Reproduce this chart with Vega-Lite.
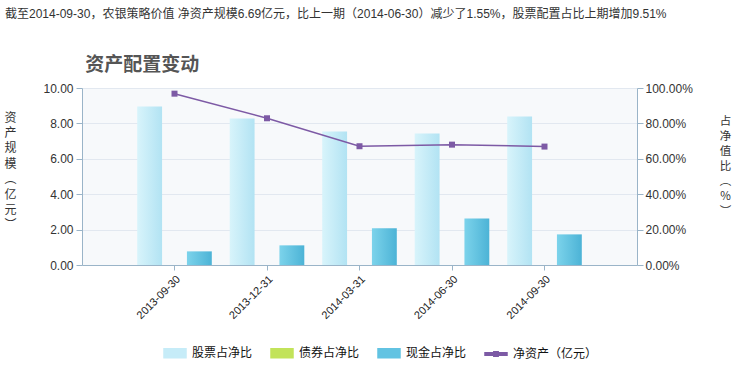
{
  "$schema": "https://vega.github.io/schema/vega-lite/v6.json",
  "width": 555,
  "height": 177,
  "autosize": {"type": "none"},
  "padding": {"left": 82, "top": 88, "right": 103, "bottom": 104},
  "background": "white",
  "config": {
    "view": {"fill": "#f7f9fb", "stroke": null},
    "axis": {
      "labelFont": "Liberation Sans",
      "labelColor": "#333333",
      "domainColor": "#9ab4c8",
      "tickColor": "#9ab4c8",
      "titleFont": "Noto Sans CJK SC",
      "titleFontWeight": "normal",
      "titleColor": "#333333"
    }
  },
  "title": {
    "text": "截至2014-09-30，农银策略价值 净资产规模6.69亿元，比上一期（2014-06-30）减少了1.55%，股票配置占比上期增加9.51%",
    "subtitle": "​　　　　 资产配置变动",
    "anchor": "start",
    "frame": "group",
    "dx": -77,
    "offset": 6,
    "font": "Liberation Sans, Noto Sans CJK SC",
    "fontSize": 12,
    "fontWeight": "normal",
    "color": "#333333",
    "subtitleFont": "Noto Sans CJK SC",
    "subtitleFontSize": 19,
    "subtitleFontWeight": "bold",
    "subtitleColor": "#555555",
    "subtitlePadding": 35
  },
  "datasets": {
    "alloc": [
      {"date": "2013-09-30", "type": "股票占净比", "value": 0.895},
      {"date": "2013-09-30", "type": "现金占净比", "value": 0.077},
      {"date": "2013-12-31", "type": "股票占净比", "value": 0.827},
      {"date": "2013-12-31", "type": "现金占净比", "value": 0.111},
      {"date": "2014-03-31", "type": "股票占净比", "value": 0.754},
      {"date": "2014-03-31", "type": "现金占净比", "value": 0.207},
      {"date": "2014-06-30", "type": "股票占净比", "value": 0.7435},
      {"date": "2014-06-30", "type": "现金占净比", "value": 0.263},
      {"date": "2014-09-30", "type": "股票占净比", "value": 0.8386},
      {"date": "2014-09-30", "type": "现金占净比", "value": 0.173}
    ],
    "nav": [
      {"date": "2013-09-30", "series": "净资产（亿元）", "nav": 9.68},
      {"date": "2013-12-31", "series": "净资产（亿元）", "nav": 8.29},
      {"date": "2014-03-31", "series": "净资产（亿元）", "nav": 6.71},
      {"date": "2014-06-30", "series": "净资产（亿元）", "nav": 6.80},
      {"date": "2014-09-30", "series": "净资产（亿元）", "nav": 6.69}
    ]
  },
  "layer": [
    {
      "data": {"name": "alloc"},
      "mark": {"type": "bar", "stroke": null},
      "encoding": {
        "x": {
          "field": "date",
          "type": "ordinal",
          "scale": {"paddingInner": 0, "paddingOuter": 0.5},
          "axis": {
            "title": null,
            "labelAngle": -45,
            "labelAlign": "right",
            "labelBaseline": "top",
            "labelFontSize": 11,
            "labelColor": "#222222",
            "labelPadding": 3,
            "tickSize": 5
          }
        },
        "xOffset": {
          "field": "type",
          "type": "nominal",
          "scale": {"domain": ["股票占净比", "现金占净比"], "paddingInner": 0.5, "paddingOuter": 0.18}
        },
        "y": {
          "field": "value",
          "type": "quantitative",
          "scale": {"domain": [0, 1]},
          "axis": {
            "orient": "right",
            "format": ".2%",
            "values": [0, 0.2, 0.4, 0.6, 0.8, 1],
            "grid": false,
            "labelFontSize": 12,
            "tickSize": 6,
            "labelPadding": 2,
            "title": ["占", "净", "值", "比", "︵", "%", "︶"],
            "titleAngle": 0,
            "titleFontSize": 11.5,
            "titleLineHeight": 15,
            "titleX": 88,
            "titleY": 33,
            "titleAlign": "center",
            "titleBaseline": "middle"
          }
        },
        "fill": {
          "condition": {
            "test": "datum.type === '股票占净比'",
            "value": {"gradient": "linear", "x1": 0, "y1": 0, "x2": 1, "y2": 0, "stops": [{"offset": 0, "color": "#d8f4fb"}, {"offset": 1, "color": "#b2e3f3"}]}
          },
          "value": {"gradient": "linear", "x1": 0, "y1": 0, "x2": 1, "y2": 0, "stops": [{"offset": 0, "color": "#7cd3eb"}, {"offset": 1, "color": "#4cb3d6"}]}
        }
      }
    },
    {
      "data": {"name": "nav"},
      "mark": {"type": "line", "strokeWidth": 1.5, "point": {"shape": "square", "size": 36, "filled": true}},
      "encoding": {
        "x": {"field": "date", "type": "ordinal"},
        "y": {
          "field": "nav",
          "type": "quantitative",
          "scale": {"domain": [0, 10]},
          "axis": {
            "orient": "left",
            "format": ".2f",
            "values": [0, 2, 4, 6, 8, 10],
            "grid": true,
            "gridColor": "#e2e8f0",
            "labelFontSize": 12,
            "tickSize": 6,
            "labelPadding": 3,
            "title": ["资", "产", "规", "模", "︵", "亿", "元", "︶"],
            "titleAngle": 0,
            "titleFontSize": 12,
            "titleLineHeight": 15.4,
            "titleX": -72,
            "titleY": 29,
            "titleAlign": "center",
            "titleBaseline": "middle"
          }
        },
        "color": {
          "field": "series",
          "type": "nominal",
          "scale": {
            "domain": ["股票占净比", "债券占净比", "现金占净比", "净资产（亿元）"],
            "range": ["#c6ecf8", "#c2e35a", "#62c3e2", "#7d5aa5"]
          },
          "legend": {
            "orient": "none",
            "legendX": 81,
            "legendY": 253,
            "direction": "horizontal",
            "title": null,
            "labelFont": "Noto Sans CJK SC",
            "labelFontSize": 12,
            "labelColor": "#111111",
            "labelOffset": 5,
            "columnPadding": 15,
            "symbolSize": 484,
            "encode": {
              "symbols": {
                "update": {
                  "fill": [
                    {"test": "datum.value === '股票占净比'", "value": {"gradient": "linear", "x1": 0, "y1": 0, "x2": 1, "y2": 0, "stops": [{"offset": 0, "color": "#d8f4fb"}, {"offset": 1, "color": "#b2e3f3"}]}},
                    {"test": "datum.value === '债券占净比'", "value": {"gradient": "linear", "x1": 0, "y1": 0, "x2": 1, "y2": 0, "stops": [{"offset": 0, "color": "#daf27c"}, {"offset": 1, "color": "#a8d53a"}]}},
                    {"test": "datum.value === '现金占净比'", "value": {"gradient": "linear", "x1": 0, "y1": 0, "x2": 1, "y2": 0, "stops": [{"offset": 0, "color": "#7cd3eb"}, {"offset": 1, "color": "#4cb3d6"}]}},
                    {"value": "#7d5aa5"}
                  ],
                  "stroke": {"value": "transparent"},
                  "shape": [
                    {"test": "datum.value === '净资产（亿元）'", "value": "M-1,-0.12H-0.2V-0.2H0.2V-0.12H1V0.12H0.2V0.2H-0.2V0.12H-1Z"},
                    {"value": "M-1,-0.41H1V0.41H-1Z"}
                  ],
                  "size": {"value": 484},
                  "opacity": {"value": 1},
                  "fillOpacity": {"value": 1}
                }
              }
            }
          }
        }
      }
    }
  ],
  "resolve": {"scale": {"y": "independent"}}
}
